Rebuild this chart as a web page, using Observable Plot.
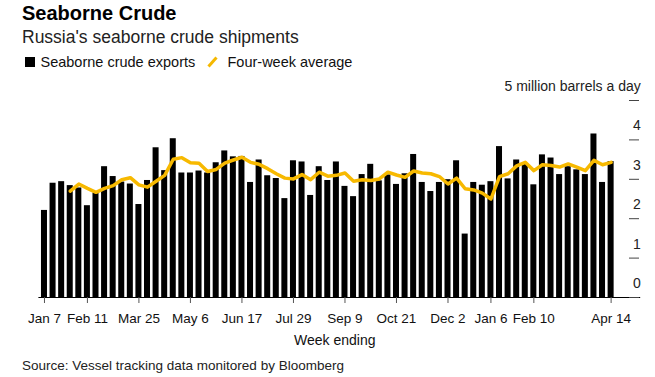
<!DOCTYPE html>
<html><head><meta charset="utf-8">
<script src="https://cdn.jsdelivr.net/npm/d3@7"></script>
<script src="https://cdn.jsdelivr.net/npm/@observablehq/plot@0.6"></script>
<style>
body{margin:0;background:#fff;font-family:"Liberation Sans",Arial,Helvetica,sans-serif;}
#wrap{position:relative;width:655px;height:377px;overflow:hidden;background:#fff;}
.t{position:absolute;white-space:nowrap;line-height:1;}
</style></head><body>
<div id="wrap">
<div class="t" style="left:22px;top:2.5px;font-size:20px;font-weight:bold;color:#000">Seaborne Crude</div>
<div class="t" style="left:22px;top:29px;font-size:17.5px;color:#222">Russia's seaborne crude shipments</div>
<div style="position:absolute;left:25px;top:57px;width:10px;height:10px;background:#000"></div>
<div class="t" style="left:40.5px;top:54.5px;font-size:14.5px;color:#111">Seaborne crude exports</div>
<svg style="position:absolute;left:206px;top:56px" width="13" height="12"><line x1="2.5" y1="10.5" x2="10.5" y2="1.5" stroke="#f5b800" stroke-width="3"/></svg>
<div class="t" style="left:227.5px;top:54.5px;font-size:14.5px;color:#111">Four-week average</div>
<div id="chart" style="position:absolute;left:0;top:72px"></div>
<div class="t" style="left:22px;top:359px;font-size:13.5px;color:#222">Source: Vessel tracking data monitored by Bloomberg</div>
</div>
<script>
// Week-ending dates (Sundays), Jan 7 2018 .. Apr 14 2019
const fmtKey = d3.utcFormat("%Y-%m-%d");
const weeks = d3.utcWeek.range(new Date("2018-01-07T00:00:00Z"), new Date("2019-04-15T00:00:00Z")).map(fmtKey);

// Seaborne crude exports, million barrels a day
const exportsMbd = [2.21,2.90,2.94,2.84,2.78,2.33,2.65,3.32,3.07,2.93,
  2.88,2.36,2.97,3.80,3.22,4.03,3.16,3.16,3.21,3.16,
  3.42,3.72,3.57,3.58,2.92,3.49,3.09,3.02,2.51,3.47,
  3.44,2.59,3.32,2.97,3.44,2.82,2.56,3.12,3.38,2.96,
  3.11,2.87,3.14,3.63,2.92,2.69,2.92,2.99,3.47,1.61,
  2.92,2.85,2.94,3.83,3.01,3.49,3.39,2.86,3.62,3.54,
  3.12,3.32,3.24,3.12,4.15,2.92,3.45];

// Four-week average (starts at 4th week)
const fourWeekAvg = [2.70,2.88,2.77,2.67,2.77,2.84,2.99,3.04,2.86,2.80,
  2.95,3.10,3.51,3.55,3.42,3.41,3.20,3.25,3.41,3.49,
  3.56,3.43,3.38,3.27,3.14,3.03,3.01,3.12,2.99,3.18,
  3.08,3.10,3.16,2.95,2.99,2.97,3.01,3.18,3.11,3.05,
  3.21,3.16,3.14,3.07,2.88,3.03,2.76,2.73,2.65,2.50,
  3.07,3.14,3.34,3.43,3.22,3.37,3.35,3.31,3.39,3.31,
  3.22,3.48,3.37,3.43];

const xTickKeys = ["2018-01-07","2018-02-11","2018-03-25","2018-05-06","2018-06-17","2018-07-29","2018-09-09","2018-10-21","2018-12-02","2019-01-06","2019-02-10","2019-04-14"];
const xTickLabels = ["Jan 7","Feb 11","Mar 25","May 6","Jun 17","Jul 29","Sep 9","Oct 21","Dec 2","Jan 6","Feb 10","Apr 14"];
const yTicks = [0,1,2,3,4,5];
const yTickLabels = ["0","1","2","3","4","5 million barrels a day"];

const bars = weeks.map((w,i)=>({week:w, value:exportsMbd[i]}));
const avg = fourWeekAvg.map((v,i)=>({week:weeks[i+3], value:v}));
const yLab = yTicks.map((v,i)=>({v, label:yTickLabels[i]}));

const plot = Plot.plot({
  width: 655, height: 285,
  marginLeft: 38.4, marginRight: 38.8, marginTop: 28, marginBottom: 60,
  style: {fontFamily: '"Liberation Sans",Arial,Helvetica,sans-serif', fontSize: "13.5px", background: "#fff", color:"#111"},
  x: {type: "band", domain: weeks, paddingInner: 0.3, paddingOuter: 0.3, axis: null},
  y: {domain: [0,5], axis: null},
  marks: [
    Plot.barY(bars, {x: "week", y: "value", fill: "#000"}),
    Plot.ruleY([0], {stroke: "#000", strokeWidth: 1, insetRight: -24}),
    Plot.axisX({ticks: xTickKeys, tickFormat: d => xTickLabels[xTickKeys.indexOf(d)], tickSize: 6, tickPadding: 10, stroke: "#555", fill: "#111", fontSize: 13.5, label: null}),
    Plot.line(avg, {x: "week", y: "value", stroke: "#f7b900", strokeWidth: 3.5, strokeLinejoin: "round", strokeLinecap: "round"}),
    Plot.ruleY(yTicks, {stroke: "#444", insetLeft: 590.6, insetRight: -22.8}),
    Plot.text(yLab, {y: "v", text: "label", frameAnchor: "right", textAnchor: "end", dx: 24, dy: -14, fontSize: 14, fill: "#222"}),
    Plot.text(["Week ending"], {frameAnchor: "bottom", dy: 47, dx: 7, fontSize: 14, fill: "#111"})
  ]
});
document.getElementById("chart").appendChild(plot);
</script>
</body></html>
